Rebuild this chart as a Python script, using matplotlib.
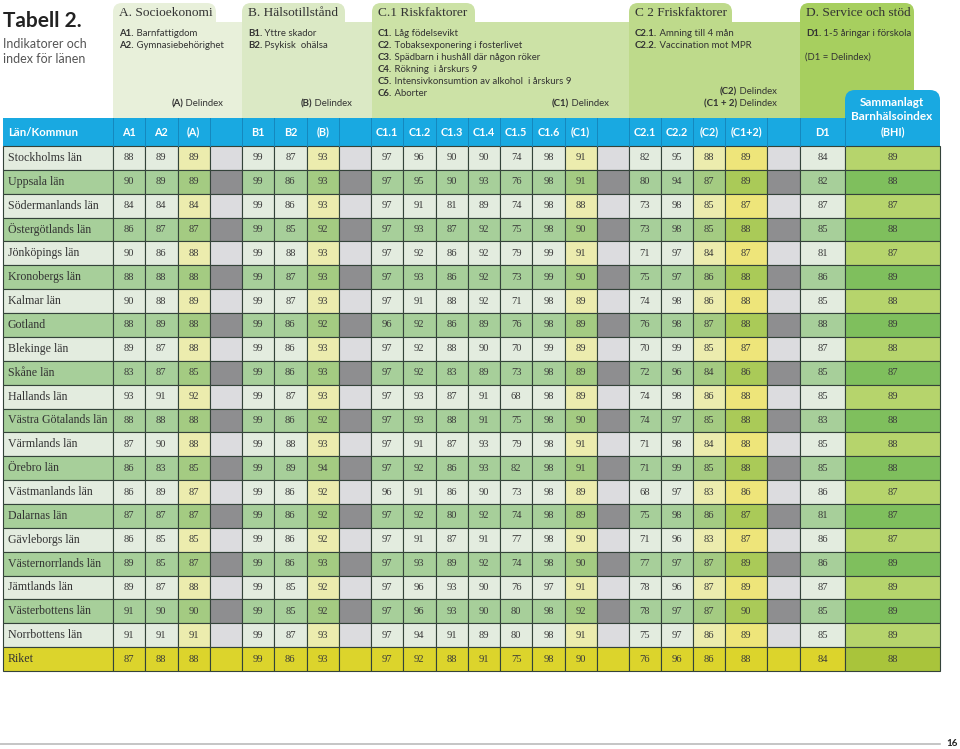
import matplotlib
matplotlib.use("Agg")
import matplotlib.pyplot as plt
from matplotlib.patches import Rectangle, FancyBboxPatch

plt.rcParams['font.family'] = ['Lato', 'DejaVu Sans']
SERIF = ['Liberation Serif', 'DejaVu Serif']

# data ----------------------------------------------------------------------
lan = ['Stockholms län', 'Uppsala län', 'Södermanlands län', 'Östergötlands län',
       'Jönköpings län', 'Kronobergs län', 'Kalmar län', 'Gotland', 'Blekinge län',
       'Skåne län', 'Hallands län', 'Västra Götalands län', 'Värmlands län',
       'Örebro län', 'Västmanlands län', 'Dalarnas län', 'Gävleborgs län',
       'Västernorrlands län', 'Jämtlands län', 'Västerbottens län',
       'Norrbottens län', 'Riket']

a1 = [88, 90, 84, 86, 90, 88, 90, 88, 89, 83, 93, 88, 87, 86, 86, 87, 86, 89, 89, 91, 91, 87]
a2 = [89, 89, 84, 87, 86, 88, 88, 89, 87, 87, 91, 88, 90, 83, 89, 87, 85, 85, 87, 90, 91, 88]
a_idx = [89, 89, 84, 87, 88, 88, 89, 88, 88, 85, 92, 88, 88, 85, 87, 87, 85, 87, 88, 90, 91, 88]
b1 = [99, 99, 99, 99, 99, 99, 99, 99, 99, 99, 99, 99, 99, 99, 99, 99, 99, 99, 99, 99, 99, 99]
b2 = [87, 86, 86, 85, 88, 87, 87, 86, 86, 86, 87, 86, 88, 89, 86, 86, 86, 86, 85, 85, 87, 86]
b_idx = [93, 93, 93, 92, 93, 93, 93, 92, 93, 93, 93, 92, 93, 94, 92, 92, 92, 93, 92, 92, 93, 93]
c11 = [97, 97, 97, 97, 97, 97, 97, 96, 97, 97, 97, 97, 97, 97, 96, 97, 97, 97, 97, 97, 97, 97]
c12 = [96, 95, 91, 93, 92, 93, 91, 92, 92, 92, 93, 93, 91, 92, 91, 92, 91, 93, 96, 96, 94, 92]
c13 = [90, 90, 81, 87, 86, 86, 88, 86, 88, 83, 87, 88, 87, 86, 86, 80, 87, 89, 93, 93, 91, 88]
c14 = [90, 93, 89, 92, 92, 92, 92, 89, 90, 89, 91, 91, 93, 93, 90, 92, 91, 92, 90, 90, 89, 91]
c15 = [74, 76, 74, 75, 79, 73, 71, 76, 70, 73, 68, 75, 79, 82, 73, 74, 77, 74, 76, 80, 80, 75]
c16 = [98, 98, 98, 98, 99, 99, 98, 98, 99, 98, 98, 98, 98, 98, 98, 98, 98, 98, 97, 98, 98, 98]
c1_idx = [91, 91, 88, 90, 91, 90, 89, 89, 89, 89, 89, 90, 91, 91, 89, 89, 90, 90, 91, 92, 91, 90]
c21 = [82, 80, 73, 73, 71, 75, 74, 76, 70, 72, 74, 74, 71, 71, 68, 75, 71, 77, 78, 78, 75, 76]
c22 = [95, 94, 98, 98, 97, 97, 98, 98, 99, 96, 98, 97, 98, 99, 97, 98, 96, 97, 96, 97, 97, 96]
c2_idx = [88, 87, 85, 85, 84, 86, 86, 87, 85, 84, 86, 85, 84, 85, 83, 86, 83, 87, 87, 87, 86, 86]
c12_idx = [89, 89, 87, 88, 87, 88, 88, 88, 87, 86, 88, 88, 88, 88, 86, 87, 87, 89, 89, 90, 89, 88]
d1 = [84, 82, 87, 85, 81, 86, 85, 88, 87, 85, 85, 83, 85, 85, 86, 81, 86, 86, 87, 85, 85, 84]
bhi = [89, 88, 87, 88, 87, 89, 88, 89, 88, 87, 89, 88, 88, 88, 87, 87, 87, 89, 89, 89, 89, 88]

# columns: label, values, kind, width
cols = [
    ('A1', a1, 'val', 32.25), ('A2', a2, 'val', 32.25), ('(A)', a_idx, 'idx', 32.25),
    ('', None, 'gap', 32.25),
    ('B1', b1, 'val', 32.25), ('B2', b2, 'val', 32.25), ('(B)', b_idx, 'idx', 32.25),
    ('', None, 'gap', 32.25),
    ('C1.1', c11, 'val', 32.25), ('C1.2', c12, 'val', 32.25), ('C1.3', c13, 'val', 32.25),
    ('C1.4', c14, 'val', 32.25), ('C1.5', c15, 'val', 32.25), ('C1.6', c16, 'val', 32.25),
    ('(C1)', c1_idx, 'idx', 32.25), ('', None, 'gap', 32.25),
    ('C2.1', c21, 'val', 32), ('C2.2', c22, 'val', 32), ('(C2)', c2_idx, 'idx', 32),
    ('(C1+2)', c12_idx, 'c12', 42), ('', None, 'gap', 33),
    ('D1', d1, 'val', 45), ('(BHI)', bhi, 'bhi', 95),
]

colors = {
    'val': ('#E3ECDF', '#A7CF9A'),
    'idx': ('#ECECAE', '#A4CB82'),
    'c12': ('#EEE57A', '#AACA58'),
    'gap': ('#DCDCDF', '#8E8E90'),
    'bhi': ('#B6D46C', '#7FBF5D'),
}
riket_col = '#DCD42C'
riket_bhi = '#A9C43B'
blue = '#19A9E1'
edge = '#34433a'

fig = plt.figure(figsize=(9.6, 7.49), dpi=100)
ax = fig.add_axes([0, 0, 1, 1])
ax.set_xlim(0, 960)
ax.set_ylim(749, 0)
ax.axis('off')
renderer = fig.canvas.get_renderer()


def rich(x, y, parts, size, ha='left', color='#333333', **kw):
    # parts = [(text, weight), ...] drawn side by side
    if ha == 'left':
        for txt, w in parts:
            t = ax.text(x, y, txt, fontsize=size, fontweight=w, color=color,
                        ha='left', va='center', **kw)
            x += t.get_window_extent(renderer).width
    else:
        for txt, w in reversed(parts):
            t = ax.text(x, y, txt, fontsize=size, fontweight=w, color=color,
                        ha='right', va='center', **kw)
            x -= t.get_window_extent(renderer).width


# title
ax.text(3, 21, 'Tabell 2.', fontsize=15, fontweight='bold', color='#222222', va='center')
ax.text(3, 44, 'Indikatorer och', fontsize=9, color='#555555', va='center')
ax.text(3, 59, 'index för länen', fontsize=9, color='#555555', va='center')

# header panels
panels = [
    (113, 242, 216, '#E8F0DA', 'A. Socioekonomi',
     [('A1.', ' Barnfattigdom'), ('A2.', ' Gymnasiebehörighet')]),
    (242, 372, 345, '#DBE9C5', 'B. Hälsotillstånd',
     [('B1.', ' Yttre skador'), ('B2.', ' Psykisk  ohälsa')]),
    (372, 629, 475, '#CCE2A6', 'C.1 Riskfaktorer',
     [('C1.', ' Låg födelsevikt'), ('C2.', ' Tobaksexponering i fosterlivet'),
      ('C3.', ' Spädbarn i hushåll där någon röker'), ('C4.', ' Rökning  i årskurs 9'),
      ('C5.', ' Intensivkonsumtion av alkohol  i årskurs 9'), ('C6.', ' Aborter')]),
    (629, 800, 732, '#BEDA8B', 'C 2 Friskfaktorer',
     [('C2.1.', ' Amning till 4 mån'), ('C2.2.', ' Vaccination mot MPR')]),
    (800, 914, 914, '#A7CF5F', 'D. Service och stöd',
     [('D1.', ' 1-5 åringar i förskola')]),
]
for x0, x1, tx1, col, title, items in panels:
    ax.add_patch(FancyBboxPatch((x0, 3), tx1 - x0, 40,
                                boxstyle='round,pad=0,rounding_size=9',
                                fc=col, ec='none', zorder=1))
    ax.add_patch(Rectangle((x0, 22), x1 - x0, 96, fc=col, ec='none', zorder=1))
    ax.text(x0 + 6, 13, title, fontsize=9.6, family=SERIF, color='#333333',
            va='center', zorder=3)
    for k, (b, n) in enumerate(items):
        rich(x0 + 6, 33 + 12 * k, [(b, 'bold'), (n, 'normal')], 6.9, zorder=3)

ax.text(805, 57, '(D1 = Delindex)', fontsize=6.9, color='#333333', va='center', zorder=3)
rich(223, 104, [('(A)', 'bold'), (' Delindex', 'normal')], 6.9, ha='right', zorder=3)
rich(352, 104, [('(B)', 'bold'), (' Delindex', 'normal')], 6.9, ha='right', zorder=3)
rich(609, 104, [('(C1)', 'bold'), (' Delindex', 'normal')], 6.9, ha='right', zorder=3)
rich(777, 92, [('(C2)', 'bold'), (' Delindex', 'normal')], 6.9, ha='right', zorder=3)
rich(777, 104, [('(C1 + 2)', 'bold'), (' Delindex', 'normal')], 6.9, ha='right', zorder=3)

# header row
x_name0, x_name1 = 3, 113
head_top, head_bot = 118, 146
row_h = (671 - head_bot) / len(lan)
ax.add_patch(Rectangle((x_name0, head_top), 940 - x_name0, head_bot - head_top,
                       fc=blue, ec='none', zorder=2))
ax.add_patch(FancyBboxPatch((845, 90), 95, 45, boxstyle='round,pad=0,rounding_size=10',
                            fc=blue, ec='none', zorder=2))
ax.text(892, 102, 'Sammanlagt', fontsize=8.5, fontweight='bold', color='white',
        ha='center', va='center', zorder=3)
ax.text(892, 117, 'Barnhälsoindex', fontsize=8.5, fontweight='bold', color='white',
        ha='center', va='center', zorder=3)
ax.text(8, 132, 'Län/Kommun', fontsize=8.2, fontweight='bold', color='white',
        va='center', zorder=3)

edges = [x_name1]
for c in cols:
    edges.append(edges[-1] + c[3])

for j, (lab, vals, kind, w) in enumerate(cols):
    xl = edges[j]
    ax.plot([xl, xl], [head_top, head_bot], color='#1587BD', lw=0.7, zorder=3)
    ax.text(xl + w / 2, 132, lab, fontsize=7.8, fontweight='bold', color='white',
            ha='center', va='center', zorder=3)

# body rows
for i, name in enumerate(lan):
    y = head_bot + i * row_h
    riket = (i == len(lan) - 1)
    shade = i % 2
    fc = riket_col if riket else colors['val'][shade]
    ax.add_patch(Rectangle((x_name0, y), x_name1 - x_name0, row_h, fc=fc, ec=edge,
                           lw=0.8, zorder=2))
    ax.text(8, y + row_h / 2, name, fontsize=8.6, family=SERIF, color='#333333',
            va='center', zorder=3)
    for j, (lab, vals, kind, w) in enumerate(cols):
        if riket:
            fc = riket_bhi if kind == 'bhi' else riket_col
        else:
            fc = colors[kind][shade]
        ax.add_patch(Rectangle((edges[j], y), w, row_h, fc=fc, ec=edge, lw=0.8, zorder=2))
        if vals is not None:
            ax.text(edges[j] + w / 2, y + row_h / 2, str(vals[i]), fontsize=7.6,
                    family=SERIF, color='#3a3a3a', ha='center', va='center', zorder=3)

# footer
ax.plot([0, 940], [744, 744], color='#BBBBBB', lw=1.2)
ax.text(958, 744, '16', fontsize=7, fontweight='bold', color='#222222',
        ha='right', va='center')

fig.savefig('out.png', dpi=100)
